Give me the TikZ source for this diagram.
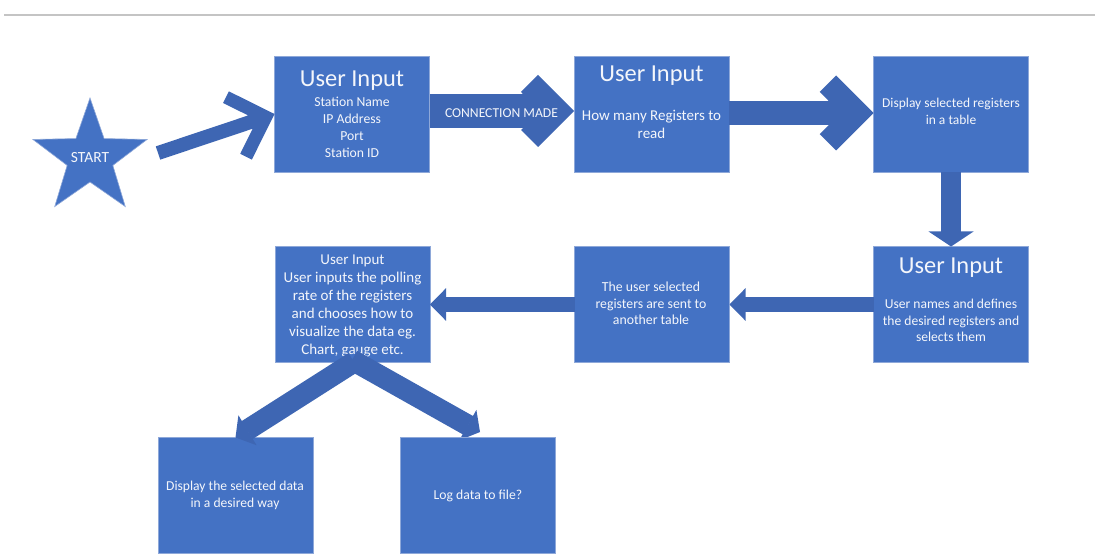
\documentclass[tikz,border=0pt]{standalone}
\usepackage{fontspec}
\setmainfont{Carlito}
\usetikzlibrary{calc}

\definecolor{boxblue}{HTML}{4472C4}
\definecolor{boxedge}{HTML}{8EA8D9}
\definecolor{arrowblue}{HTML}{3E66B3}
\definecolor{rulegray}{HTML}{C4C4C4}
\definecolor{labelwhite}{HTML}{F4F6FB}

\tikzset{
  flowbox/.style={rectangle, fill=boxblue, draw=boxedge, line width=0.7pt,
    minimum width=155pt, minimum height=116pt, inner sep=0pt, outer sep=0pt},
  % multi-line texts sit on the baseline of their last line
  plaintext/.style={text=labelwhite, align=center, inner sep=0pt, anchor=base},
  headtext/.style={plaintext, font=\fontsize{24.4}{29}\selectfont},
  bodytext/.style 2 args={plaintext, font=\fontsize{#1}{#2}\selectfont},
  arrowpaint/.style={fill=arrowblue},
  shaftline/.style={draw=arrowblue, line width=#1},
  % chevron head, tip at the origin, pointing along +x
  % #1 shaft half width, #2 wing reach, #3 wing thickness
  pics/chevhead/.style n args={3}{code={
    \fill[arrowpaint] ({-1.4142*#3-#1-1},#1) -- ({-1.4142*#3-#1},#1)
      -- ({-#2-0.7071*#3},{#2-0.7071*#3}) -- (-#2,#2) -- (0,0)
      -- (-#2,-#2) -- ({-#2-0.7071*#3},{-#2+0.7071*#3})
      -- ({-1.4142*#3-#1},-#1) -- ({-1.4142*#3-#1-1},-#1) -- cycle;
  }},
  % triangular head, tip at the origin, pointing along +x
  % #1 half width, #2 length
  pics/trihead/.style n args={2}{code={
    \fill[arrowpaint] (0,0) -- (-#2,#1) -- (-#2,-#1) -- cycle;
  }},
}

\begin{document}
\begin{tikzpicture}[x=1pt, y=1pt]
\useasboundingbox (0,0) rectangle (1095,554);
\fill[white] (0,0) rectangle (1095,554);

% rule along the top
\draw[rulegray, line width=1.2pt] (4,539) -- (1095,539);

% start star
\fill[boxblue, draw=boxedge, line width=0.6pt, shift={(90,396)}]
  (90:60) -- (126:24) -- (162:60) -- (198:24) -- (234:60) -- (270:24)
  -- (306:60) -- (342:24) -- (18:60) -- (54:24) -- cycle;
\node[plaintext, anchor=center, font=\fontsize{15.5}{18}\selectfont] (start) at (90,396) {START};

% boxes
\node[flowbox] (b1) at (352,440) {};
\node[flowbox] (b2) at (651.5,440) {};
\node[flowbox] (b3) at (951,440) {};
\node[flowbox] (b4) at (951,249.5) {};
\node[flowbox] (b5) at (652,249.5) {};
\node[flowbox] (b6) at (352.5,249.5) {};
\node[flowbox] (b7) at (235.5,58.5) {};

% box texts
\node[headtext] (t1) at (352,467) {User Input};
\node[bodytext={13.7}{16.7}] (t1b) at (352,396.9) {Station Name\\IP Address\\Port\\Station ID};
\node[headtext] (t2) at (651.5,472) {User Input};
\node[bodytext={15}{18}] (t2b) at (651.5,415.5) {How many Registers to\\read};
\node[bodytext={13.5}{17}] (t3b) at (951,429) {Display selected registers\\in a table};
\node[headtext] (t4) at (951,280) {User Input};
\node[bodytext={13.6}{16.5}] (t4b) at (951,212) {User names and defines\\the desired registers and\\selects them};
\node[bodytext={13.8}{16.3}] (t5b) at (651,229.4) {The user selected\\registers are sent to\\another table};
\node[bodytext={15}{17.9}] (t6b) at (352.5,199.5) {User Input\\User inputs the polling\\rate of the registers\\and chooses how to\\visualize the data eg.\\Chart, gauge etc.};
\node[bodytext={13.6}{17}] (t7b) at (235,46) {Display the selected data\\in a desired way};

% arrows
\coordinate (atail) at (158,401);
\draw[shaftline=14pt, shorten >=25.4pt] (atail) -- (b1.west);
\pic[rotate=18.6] at (b1.west) {chevhead={7}{36}{13}};

\draw[shaftline=34pt, shorten >=50.9pt] ($(b1.east)+(0,3)$) -- ($(b2.west)+(0,3)$);
\pic at ($(b2.west)+(0,3)$) {chevhead={17}{36}{24}};

\draw[shaftline=24pt, shorten >=44.5pt] ($(b2.east)+(0,1)$) -- ($(b3.west)+(0,1)$);
\pic at ($(b3.west)+(0,1)$) {chevhead={12}{37.5}{23}};

\draw[shaftline=20pt, shorten >=14.5pt] (b3.south) -- (b4.north);
\pic[rotate=-90] at (b4.north) {trihead={22.5}{15}};

\draw[shaftline=15.4pt, shorten >=15.5pt] (b4.west) -- (b5.east);
\pic[rotate=180] at (b5.east) {trihead={16.3}{16}};

\draw[shaftline=15.4pt, shorten >=15.5pt] (b5.west) -- (b6.east);
\pic[rotate=180] at (b6.east) {trihead={16.3}{16}};

\coordinate (gtail) at (354,192);
\draw[shaftline=21pt, shorten >=13.5pt] (gtail) -- (b7.north);
\pic[rotate=211.2] at (b7.north) {trihead={17.5}{14}};

\coordinate (htail) at (352,194);
\coordinate (htip) at (480,122);
\draw[shaftline=21pt, shorten >=13.5pt] (htail) -- (htip);
\pic[rotate=-29.4] at (htip) {trihead={17.5}{14}};

% last box sits over the tip of the arrow that reaches it
\node[flowbox] (b8) at (478,58.5) {};
\node[bodytext={13.7}{16.7}] (t8b) at (478,54) {Log data to file?};

% label on the connection arrow
\node[bodytext={13.6}{16}] (conn) at (501.5,436.5) {CONNECTION MADE};
\end{tikzpicture}
\end{document}
